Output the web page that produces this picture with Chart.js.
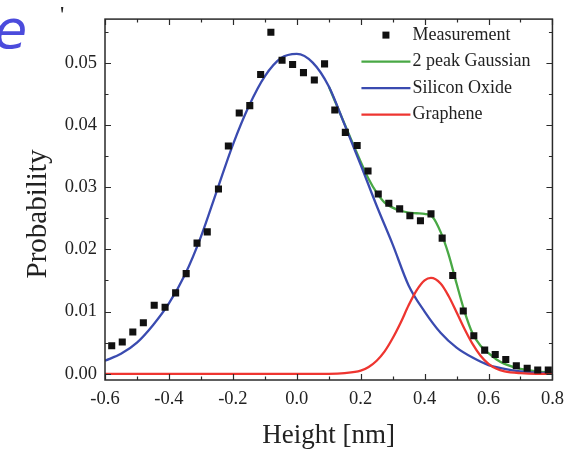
<!DOCTYPE html>
<html>
<head>
    <title>Height distribution</title>
    <script src="https://cdn.jsdelivr.net/npm/chart.js"></script>
    <style>
        body { margin: 0; background: white; }
        .wrap { position: relative; width: 572px; height: 454px; overflow: hidden; }
        .frag-e { position: absolute; left: -6px; top: 3px; font: italic 54px "DejaVu Sans", sans-serif; line-height: 1; color: #4b4bdc; }
        .frag-q { position: absolute; left: 60px; top: 2px; font: 24px "Liberation Serif", serif; line-height: 1; color: #222; }
    </style>
</head>
<body>
    <div class="wrap">
        <canvas id="histChart"></canvas>
        <span class="frag-e">e</span>
        <span class="frag-q">'</span>
    </div>

    <script>
        // measured histogram (height in nm, probability)
        const measX = [-0.579, -0.546, -0.513, -0.480, -0.446, -0.412, -0.379, -0.346, -0.312, -0.280,
                       -0.245, -0.214, -0.180, -0.147, -0.113, -0.081, -0.046, -0.013, 0.021, 0.055,
                       0.087, 0.119, 0.152, 0.189, 0.223, 0.255, 0.288, 0.322, 0.354, 0.387,
                       0.420, 0.455, 0.488, 0.521, 0.554, 0.588, 0.621, 0.654, 0.687, 0.721,
                       0.754, 0.787];
        const measY = [0.0045, 0.0051, 0.0067, 0.0082, 0.0110, 0.0107, 0.0130, 0.0161, 0.0210, 0.0228,
                       0.0297, 0.0366, 0.0419, 0.0431, 0.0481, 0.0549, 0.0504, 0.0497, 0.0484, 0.0472,
                       0.0498, 0.0424, 0.0388, 0.0367, 0.0326, 0.0289, 0.0274, 0.0265, 0.0254, 0.0246,
                       0.0257, 0.0218, 0.0158, 0.0101, 0.0061, 0.0038, 0.0031, 0.0023, 0.0013, 0.0009,
                       0.0006, 0.0006];

        // silicon oxide peak (blue)
        const oxideX = [-0.60, -0.55, -0.50, -0.45, -0.40, -0.35, -0.30, -0.25, -0.20, -0.15,
                        -0.10, -0.05, 0.00, 0.05, 0.10, 0.15, 0.20, 0.25, 0.30, 0.35,
                        0.40, 0.45, 0.50, 0.55, 0.60, 0.65, 0.70, 0.75, 0.80];
        const oxideY = [0.0021, 0.0032, 0.0050, 0.0078, 0.0113, 0.0159, 0.0220, 0.0294, 0.0368, 0.0430,
                        0.0478, 0.0507, 0.0514, 0.0500, 0.0462, 0.0400, 0.0336, 0.0270, 0.0208, 0.0142,
                        0.0100, 0.0066, 0.0042, 0.0026, 0.0014, 0.0008, 0.0004, 0.0002, 0.0001];

        // graphene peak (red)
        const grapheneX = [-0.60, -0.40, -0.20, 0.00, 0.10, 0.15, 0.200, 0.225, 0.250, 0.275, 0.300,
                           0.325, 0.350, 0.375, 0.400, 0.420, 0.450, 0.475, 0.500, 0.525, 0.550,
                           0.575, 0.600, 0.625, 0.650, 0.700, 0.750, 0.800];
        const grapheneY = [0.0000, 0.0000, 0.0000, 0.0000, 0.0000, 0.0001, 0.0005, 0.0011, 0.0021, 0.0036, 0.0057,
                           0.0082, 0.0110, 0.0134, 0.0150, 0.0154, 0.0145, 0.0125, 0.0099, 0.0072, 0.0048,
                           0.0029, 0.0016, 0.0008, 0.0004, 0.0001, 0.0000, 0.0000];

        // 2 peak fit (green)
        const fitX = [0.10, 0.15, 0.200, 0.225, 0.250, 0.275, 0.300, 0.325, 0.350, 0.375, 0.400,
                      0.425, 0.450, 0.475, 0.500, 0.525, 0.550, 0.575, 0.600, 0.625, 0.650,
                      0.700, 0.750, 0.800];
        const fitY = [0.0462, 0.0401, 0.0341, 0.0313, 0.0291, 0.0275, 0.0267, 0.0262, 0.0259, 0.0258, 0.0257,
                      0.0252, 0.0228, 0.0192, 0.0145, 0.0100, 0.0065, 0.0045, 0.0033, 0.0023, 0.0016,
                      0.0008, 0.0004, 0.0002];

        function pairs(xs, ys) {
            return xs.map((x, i) => ({ x: x, y: ys[i] }));
        }

        // frame, inward ticks on all four sides and the legend inside the plot
        const frameTicks = {
            id: 'frameTicks',
            afterDatasetsDraw(chart) {
                const { ctx, chartArea: a, scales } = chart;
                ctx.save();
                ctx.strokeStyle = '#2a2a2a';
                ctx.lineWidth = 1.2;
                ctx.beginPath();
                scales.x.ticks.forEach(t => {
                    const px = Math.round(scales.x.getPixelForValue(t.value)) + 0.5;
                    const len = t.label ? 6 : 3.5;
                    ctx.moveTo(px, a.bottom); ctx.lineTo(px, a.bottom - len);
                    ctx.moveTo(px, a.top); ctx.lineTo(px, a.top + len);
                });
                scales.y.ticks.forEach(t => {
                    const py = Math.round(scales.y.getPixelForValue(t.value)) + 0.5;
                    const len = t.label ? 6 : 3.5;
                    ctx.moveTo(a.left, py); ctx.lineTo(a.left + len, py);
                    ctx.moveTo(a.right, py); ctx.lineTo(a.right - len, py);
                });
                ctx.stroke();
                ctx.lineWidth = 1.5;
                ctx.strokeRect(a.left, a.top, a.right - a.left, a.bottom - a.top);

                // legend
                const lineStart = a.right - 191, lineEnd = a.right - 142;
                const textX = a.right - 140;
                ctx.font = '18px "Liberation Serif"';
                ctx.textBaseline = 'middle';
                chart.data.datasets.forEach(ds => {
                    const cy = a.top + 16 + ds.legendRow * 26.5;
                    if (ds.showLine) {
                        ctx.strokeStyle = ds.borderColor;
                        ctx.lineWidth = ds.borderWidth;
                        ctx.beginPath();
                        ctx.moveTo(lineStart, cy);
                        ctx.lineTo(lineEnd, cy);
                        ctx.stroke();
                    } else {
                        ctx.fillStyle = ds.backgroundColor;
                        ctx.fillRect((lineStart + lineEnd) / 2 - 3.5, cy - 3.5, 7, 7);
                    }
                    ctx.fillStyle = '#222';
                    ctx.fillText(ds.label, textX, cy);
                });
                ctx.restore();
            }
        };

        Chart.defaults.font.family = '"Liberation Serif", "Times New Roman", serif';
        Chart.defaults.color = '#222';

        const ctx = document.getElementById('histChart').getContext('2d');
        const chart = new Chart(ctx, {
            type: 'scatter',
            data: {
                datasets: [
                    {
                        label: 'Measurement',
                        data: pairs(measX, measY),
                        showLine: false,
                        pointStyle: 'rect',
                        pointRadius: 5,
                        backgroundColor: '#111',
                        borderColor: '#111',
                        borderWidth: 0,
                        order: 0,
                        legendRow: 0
                    },
                    {
                        label: '2 peak Gaussian',
                        data: pairs(fitX, fitY),
                        showLine: true,
                        borderColor: '#49a845',
                        borderWidth: 2.3,
                        pointRadius: 0,
                        cubicInterpolationMode: 'monotone',
                        order: 3,
                        legendRow: 1
                    },
                    {
                        label: 'Silicon Oxide',
                        data: pairs(oxideX, oxideY),
                        showLine: true,
                        borderColor: '#3a4bb0',
                        borderWidth: 2.3,
                        pointRadius: 0,
                        cubicInterpolationMode: 'monotone',
                        order: 2,
                        legendRow: 2
                    },
                    {
                        label: 'Graphene',
                        data: pairs(grapheneX, grapheneY),
                        showLine: true,
                        borderColor: '#ee3530',
                        borderWidth: 2.3,
                        pointRadius: 0,
                        cubicInterpolationMode: 'monotone',
                        order: 1,
                        legendRow: 3
                    }
                ]
            },
            options: {
                responsive: true,
                maintainAspectRatio: false,
                animation: false,
                layout: { padding: { top: 13, right: 16, left: 0, bottom: 0 } },
                plugins: {
                    legend: { display: false },
                    tooltip: { enabled: false }
                },
                scales: {
                    x: {
                        type: 'linear',
                        min: -0.6,
                        max: 0.8,
                        grid: { display: false, drawTicks: false },
                        border: { display: false },
                        afterFit: s => { s.height = 74; },
                        ticks: {
                            stepSize: 0.1,
                            maxTicksLimit: 100,
                            autoSkip: false,
                            maxRotation: 0,
                            padding: 8,
                            font: { size: 18.5 },
                            callback: v => Math.round(v * 10) % 2 === 0 ? v.toFixed(1) : ''
                        },
                        title: {
                            display: true,
                            text: 'Height [nm]',
                            font: { size: 27 },
                            padding: { top: 0, bottom: 2 }
                        }
                    },
                    y: {
                        type: 'linear',
                        min: -0.001,
                        max: 0.057,
                        grid: { display: false, drawTicks: false },
                        border: { display: false },
                        afterFit: s => { s.width = 105; },
                        ticks: {
                            stepSize: 0.005,
                            maxTicksLimit: 100,
                            includeBounds: false,
                            autoSkip: false,
                            padding: 8,
                            font: { size: 18.5 },
                            callback: v => Math.round(v * 200) % 2 === 0 ? v.toFixed(2) : ''
                        },
                        title: {
                            display: true,
                            // trailing spaces push the word a little below the axis centre, as in the original
                            text: 'Probability    ',
                            font: { size: 29 },
                            padding: { top: 21, bottom: 0 }
                        }
                    }
                }
            },
            plugins: [frameTicks]
        });
    </script>
</body>
</html>
